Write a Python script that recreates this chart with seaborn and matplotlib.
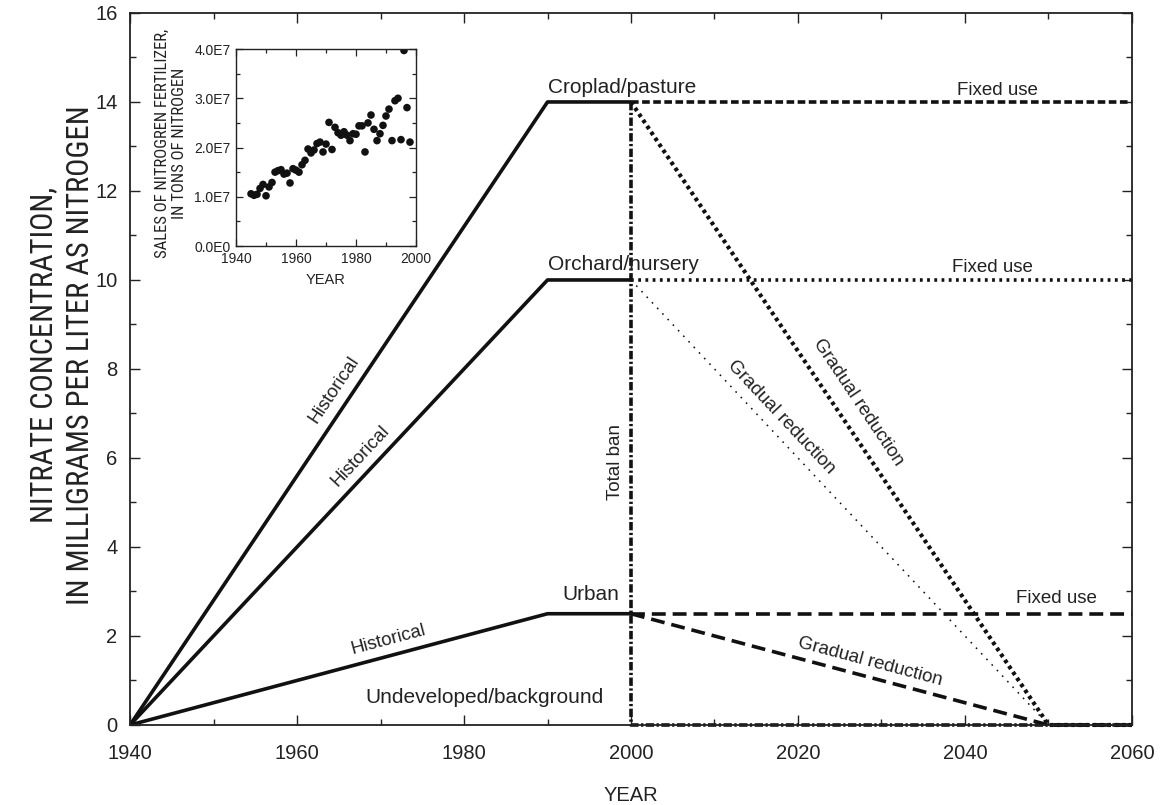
import numpy as np
import matplotlib
matplotlib.use("Agg")
import matplotlib.pyplot as plt
from matplotlib import font_manager as fm
from matplotlib.ticker import MultipleLocator, FuncFormatter
import seaborn as sns

sns.set_theme(style="ticks")
plt.rcParams["font.family"] = ["Liberation Sans", "DejaVu Sans"]
plt.rcParams["lines.scale_dashes"] = False

# ---- scenario data: nitrate concentration (mg/L as N) ----
hist_years = [1940, 1990, 2000]
croplad_hist = [0, 14, 14]
orchard_hist = [0, 10, 10]
urban_hist = [0, 2.5, 2.5]

fixed_years = [2000, 2060]
croplad_fixed = [14, 14]
orchard_fixed = [10, 10]
urban_fixed = [2.5, 2.5]

reduction_years = [2000, 2050, 2060]
croplad_reduction = [14, 0, 0]
orchard_reduction = [10, 0, 0]
urban_reduction = [2.5, 0, 0]

ban_years = [2000, 2000, 2060]
ban_values = [14, 0, 0]

# ---- annual nitrogen fertilizer sales (tons of N) ----
sales_years = [1945, 1946, 1947, 1948, 1949, 1950, 1951, 1952, 1953, 1954,
               1955, 1956, 1957, 1958, 1959, 1960, 1961, 1962, 1963, 1964,
               1965, 1966, 1967, 1968, 1969, 1970, 1971, 1972, 1973, 1974,
               1975, 1976, 1977, 1978, 1979, 1980, 1981, 1982, 1983, 1984,
               1985, 1986, 1987, 1988, 1989, 1990, 1991, 1992, 1993, 1994,
               1995, 1996, 1997, 1998]
sales_tons = [1.06e7, 1.03e7, 1.05e7, 1.17e7, 1.25e7, 1.02e7, 1.20e7, 1.29e7,
              1.50e7, 1.53e7, 1.55e7, 1.46e7, 1.48e7, 1.28e7, 1.57e7, 1.54e7,
              1.50e7, 1.65e7, 1.74e7, 1.97e7, 1.89e7, 1.95e7, 2.08e7, 2.11e7,
              1.91e7, 2.07e7, 2.51e7, 1.96e7, 2.41e7, 2.30e7, 2.25e7, 2.32e7,
              2.25e7, 2.14e7, 2.28e7, 2.27e7, 2.44e7, 2.44e7, 1.91e7, 2.50e7,
              2.66e7, 2.37e7, 2.14e7, 2.28e7, 2.45e7, 2.64e7, 2.78e7, 2.14e7,
              2.95e7, 3.00e7, 2.16e7, 3.97e7, 2.81e7, 2.11e7]


def condensed_font():
    """Return the path of a narrow sans-serif face, if one is installed."""
    wanted = ["Liberation Sans Narrow", "Roboto Condensed", "Open Sans Condensed",
              "Noto Sans Condensed", "DejaVu Sans Condensed"]
    entries = fm.fontManager.ttflist
    for name in wanted:
        for f in entries:
            if f.name == name and f.style == "normal" and f.weight in (400, "normal", "regular"):
                return f.fname
    for f in entries:
        if (f.stretch in ("condensed", "semi-condensed", "extra-condensed")
                and f.style == "normal" and f.weight in (400, "normal", "regular")
                and "Mono" not in f.name and "Serif" not in f.name):
            return f.fname
    return None


narrow_path = condensed_font()


def label_font(size_narrow, size_regular):
    if narrow_path:
        return fm.FontProperties(fname=narrow_path, size=size_narrow)
    return fm.FontProperties(family="Liberation Sans", size=size_regular)


fig = plt.figure(figsize=(11.61, 8.05), dpi=100)
ax = fig.add_axes([0.112, 0.0994, 0.863, 0.8845])

K = "#111111"
LW = 2.6

# historical (solid)
for vals in (croplad_hist, orchard_hist, urban_hist):
    sns.lineplot(x=hist_years, y=vals, ax=ax, color=K, lw=LW, sort=False,
                 estimator=None, solid_capstyle="butt")

# fixed use
sns.lineplot(x=fixed_years, y=croplad_fixed, ax=ax, color=K, lw=LW, sort=False,
             estimator=None, linestyle=(0, (5.5, 2.5)), clip_on=False)
sns.lineplot(x=fixed_years, y=orchard_fixed, ax=ax, color=K, lw=LW, sort=False,
             estimator=None, linestyle=(0, (2.0, 3.2)), clip_on=False)
sns.lineplot(x=fixed_years, y=urban_fixed, ax=ax, color=K, lw=LW, sort=False,
             estimator=None, linestyle=(0, (10, 5)), clip_on=False)

# gradual reduction
sns.lineplot(x=reduction_years, y=croplad_reduction, ax=ax, color=K, lw=3.0,
             sort=False, estimator=None, linestyle=(0, (2.6, 2.6)), clip_on=False)
sns.lineplot(x=reduction_years, y=orchard_reduction, ax=ax, color=K, lw=1.1,
             sort=False, estimator=None, linestyle=(0, (1.2, 4.3)), clip_on=False)
sns.lineplot(x=reduction_years, y=urban_reduction, ax=ax, color=K, lw=LW,
             sort=False, estimator=None, linestyle=(0, (10, 5)), clip_on=False)

# total ban
sns.lineplot(x=ban_years, y=ban_values, ax=ax, color=K, lw=LW, sort=False,
             estimator=None, linestyle=(0, (6, 1.8, 1.6, 1.8)), clip_on=False)

ax.set_xlim(1940, 2060)
ax.set_ylim(0, 16)
ax.xaxis.set_major_locator(MultipleLocator(20))
ax.xaxis.set_minor_locator(MultipleLocator(10))
ax.yaxis.set_major_locator(MultipleLocator(2))
ax.yaxis.set_minor_locator(MultipleLocator(1))
ax.tick_params(which="both", direction="in", top=True, right=True,
               colors="#222222", labelcolor="#222222", labelsize=14.5, width=1.0)
ax.tick_params(which="major", length=7)
ax.tick_params(axis="y", which="major", pad=9)
ax.tick_params(axis="x", which="major", pad=14)
ax.tick_params(which="minor", length=4)
for s in ax.spines.values():
    s.set_linewidth(1.3)
    s.set_color("#222222")

ax.set_xlabel("YEAR", fontsize=14.5, color="#222222", labelpad=16)
ax.set_ylabel("NITRATE CONCENTRATION,\nIN MILLIGRAMS PER LITER AS NITROGEN",
              fontproperties=label_font(22, 18.5), color="#222222",
              linespacing=1.35)
ax.yaxis.set_label_coords(-0.035, 0.52)

TXT = dict(color="#222222")
ax.text(1990, 14.2, "Croplad/pasture", fontsize=15, ha="left", va="baseline", **TXT)
ax.text(1990, 10.22, "Orchard/nursery", fontsize=15, ha="left", va="baseline", **TXT)
ax.text(1998.6, 2.81, "Urban", fontsize=15, ha="right", va="baseline", **TXT)
ax.text(1982.5, 0.49, "Undeveloped/background", fontsize=15, ha="center",
        va="baseline", **TXT)


def along(x, y, text, x0, y0, x1, y1, size=13.5):
    ang = np.degrees(np.arctan2(y1 - y0, x1 - x0))
    ax.text(x, y, text, fontsize=size, ha="center", va="center",
            rotation=ang, rotation_mode="anchor", transform_rotates_text=True,
            **TXT)


along(1964.5, 7.53, "Historical", 1940, 0, 1990, 14)
along(1967.6, 6.05, "Historical", 1940, 0, 1990, 10)
along(1970.9, 1.91, "Historical", 1940, 0, 1990, 2.5)
along(2027.2, 7.24, "Gradual reduction", 2000, 14, 2050, 0)
along(2018.0, 6.92, "Gradual reduction", 2000, 10, 2050, 0)
along(2028.6, 1.42, "Gradual reduction", 2000, 2.5, 2050, 0)
ax.text(1998.1, 5.9, "Total ban", fontsize=13.5, rotation=90, ha="center",
        va="center", **TXT)
ax.text(2043.9, 14.16, "Fixed use", fontsize=13.5, ha="center", va="baseline", **TXT)
ax.text(2043.3, 10.18, "Fixed use", fontsize=13.5, ha="center", va="baseline", **TXT)
ax.text(2051.0, 2.74, "Fixed use", fontsize=13.5, ha="center", va="baseline", **TXT)

# ---- inset: fertilizer sales ----
ins = fig.add_axes([0.2033, 0.6944, 0.155, 0.2447])
sns.scatterplot(x=sales_years, y=sales_tons, ax=ins, color=K, s=30,
                edgecolor="none", linewidth=0)
ins.set_xlim(1940, 2000)
ins.set_ylim(0, 4e7)
ins.xaxis.set_major_locator(MultipleLocator(20))
ins.xaxis.set_minor_locator(MultipleLocator(10))
ins.yaxis.set_major_locator(MultipleLocator(1e7))
ins.yaxis.set_minor_locator(MultipleLocator(0.5e7))
ins.yaxis.set_major_formatter(FuncFormatter(
    lambda v, p: "0.0E0" if v == 0 else f"{v / 1e7:.1f}E7"))
ins.tick_params(which="both", direction="in", top=True, right=True,
                colors="#222222", labelcolor="#222222", labelsize=10, width=0.9)
ins.tick_params(which="major", length=5, pad=4)
ins.tick_params(which="minor", length=3)
for s in ins.spines.values():
    s.set_linewidth(1.0)
    s.set_color("#222222")
ins.set_xlabel("YEAR", fontsize=10.5, color="#222222", labelpad=5)
ins.set_ylabel("SALES OF NITROGREN FERTILIZER,\nIN TONS OF NITROGEN",
               fontproperties=label_font(12, 10), color="#222222",
               linespacing=1.2)
ins.yaxis.set_label_coords(-0.27, 0.52)

fig.savefig("out.png", dpi=100, facecolor="white")
